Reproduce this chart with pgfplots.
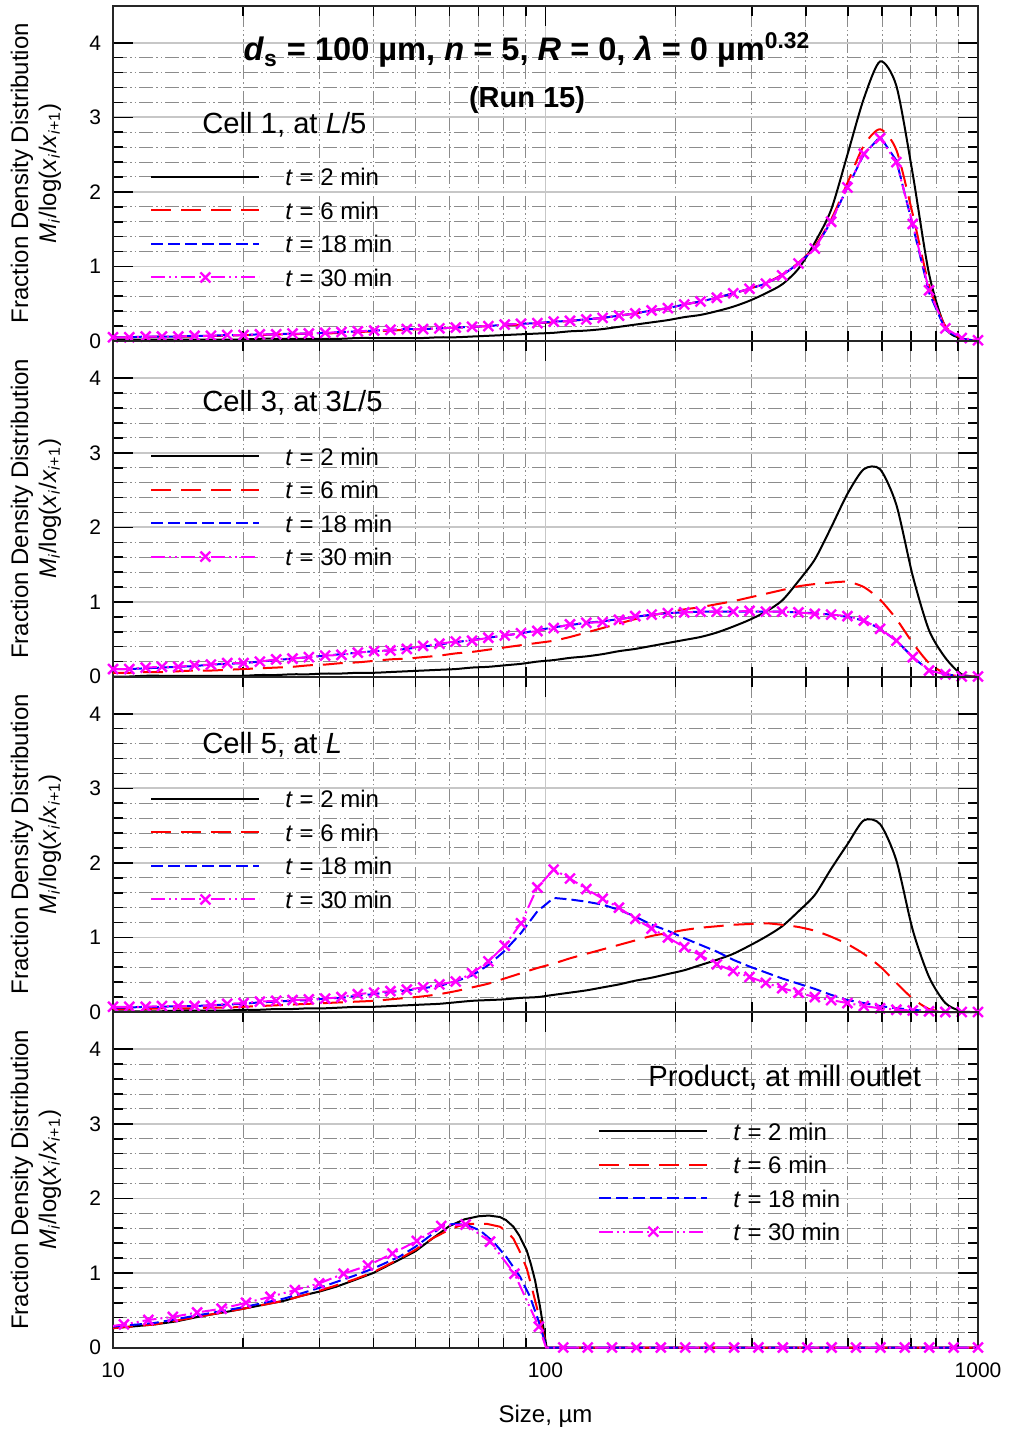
\documentclass[border=0pt]{standalone}
\usepackage{fontspec}
\setmainfont{Liberation Sans}
\usepackage{pgfplots}
\usepackage{pgfplotstable}
\pgfplotsset{compat=1.18}
\definecolor{mag}{RGB}{255,0,255}
\definecolor{rd}{RGB}{255,0,0}
\definecolor{bl}{RGB}{0,0,255}

% columns: x, a = t 2 min, b = t 6 min, c = t 18 min, d = t 30 min
\pgfplotstableread{
x a b c d
10.000 0.02 0.05 0.05 0.05
10.908 0.02 0.05 0.05 0.05
11.898 0.02 0.05 0.06 0.06
12.978 0.02 0.06 0.06 0.06
14.156 0.02 0.06 0.06 0.06
15.441 0.02 0.06 0.07 0.07
16.843 0.02 0.07 0.07 0.07
18.372 0.02 0.07 0.08 0.08
20.040 0.02 0.08 0.08 0.08
21.859 0.03 0.08 0.09 0.09
23.843 0.03 0.09 0.09 0.09
26.008 0.03 0.09 0.10 0.10
28.369 0.03 0.10 0.10 0.10
30.944 0.03 0.10 0.11 0.11
33.753 0.03 0.11 0.12 0.12
36.817 0.04 0.12 0.13 0.13
40.160 0.04 0.13 0.14 0.14
43.806 0.04 0.14 0.15 0.15
47.782 0.04 0.15 0.16 0.16
52.120 0.04 0.16 0.16 0.16
56.851 0.05 0.17 0.17 0.17
62.012 0.05 0.18 0.18 0.18
67.642 0.06 0.19 0.19 0.19
73.782 0.07 0.20 0.20 0.20
80.480 0.08 0.21 0.22 0.22
87.786 0.09 0.22 0.23 0.23
95.755 0.10 0.24 0.24 0.24
104.45 0.11 0.25 0.26 0.26
113.93 0.13 0.27 0.27 0.27
124.27 0.14 0.29 0.29 0.29
135.55 0.16 0.31 0.31 0.31
147.86 0.19 0.34 0.34 0.34
161.28 0.22 0.37 0.37 0.37
175.92 0.25 0.41 0.41 0.41
191.89 0.28 0.44 0.44 0.44
209.31 0.32 0.49 0.49 0.49
228.31 0.35 0.53 0.53 0.53
249.04 0.40 0.58 0.58 0.58
271.65 0.46 0.64 0.64 0.64
296.31 0.54 0.70 0.70 0.70
323.21 0.64 0.78 0.77 0.77
352.55 0.76 0.89 0.88 0.88
384.55 0.97 1.05 1.04 1.04
419.46 1.32 1.27 1.24 1.24
457.54 1.76 1.63 1.60 1.60
499.07 2.50 2.12 2.06 2.06
544.38 3.25 2.62 2.50 2.51
593.80 3.75 2.84 2.74 2.72
647.70 3.42 2.56 2.42 2.40
706.50 2.24 1.70 1.55 1.57
770.64 0.90 0.75 0.65 0.68
840.59 0.18 0.20 0.15 0.17
916.90 0.03 0.04 0.03 0.04
1000.0 0.00 0.00 0.00 0.01
}\panelA

\pgfplotstableread{
x a b c d
10.000 0.00 0.05 0.10 0.10
10.908 0.00 0.05 0.10 0.10
11.898 0.01 0.06 0.11 0.12
12.978 0.01 0.06 0.12 0.13
14.156 0.01 0.07 0.13 0.13
15.441 0.01 0.08 0.14 0.15
16.843 0.01 0.08 0.16 0.16
18.372 0.01 0.09 0.17 0.18
20.040 0.01 0.10 0.18 0.18
21.859 0.02 0.11 0.20 0.20
23.843 0.02 0.12 0.22 0.23
26.008 0.03 0.13 0.24 0.24
28.369 0.03 0.15 0.26 0.26
30.944 0.04 0.16 0.28 0.28
33.753 0.04 0.18 0.30 0.29
36.817 0.05 0.19 0.32 0.32
40.160 0.05 0.21 0.34 0.34
43.806 0.06 0.23 0.35 0.35
47.782 0.07 0.24 0.37 0.37
52.120 0.08 0.26 0.40 0.41
56.851 0.09 0.28 0.43 0.44
62.012 0.10 0.31 0.46 0.47
67.642 0.12 0.33 0.49 0.48
73.782 0.13 0.36 0.52 0.52
80.480 0.15 0.39 0.55 0.55
87.786 0.17 0.42 0.58 0.58
95.755 0.20 0.45 0.62 0.61
104.45 0.22 0.48 0.66 0.65
113.93 0.25 0.53 0.69 0.70
124.27 0.27 0.59 0.72 0.72
135.55 0.30 0.65 0.74 0.73
147.86 0.34 0.71 0.77 0.76
161.28 0.37 0.77 0.80 0.81
175.92 0.41 0.82 0.83 0.83
191.89 0.45 0.86 0.85 0.85
209.31 0.49 0.90 0.86 0.86
228.31 0.53 0.93 0.87 0.87
249.04 0.59 0.97 0.87 0.87
271.65 0.67 1.01 0.87 0.87
296.31 0.76 1.06 0.87 0.88
323.21 0.87 1.11 0.87 0.87
352.55 1.02 1.16 0.87 0.87
384.55 1.28 1.21 0.86 0.86
419.46 1.57 1.24 0.85 0.84
457.54 2.00 1.26 0.83 0.83
499.07 2.45 1.27 0.80 0.81
544.38 2.78 1.20 0.75 0.75
593.80 2.78 1.03 0.64 0.64
647.70 2.30 0.77 0.48 0.48
706.50 1.35 0.45 0.26 0.26
770.64 0.62 0.18 0.08 0.08
840.59 0.25 0.04 0.03 0.03
916.90 0.03 0.00 0.00 0.00
1000.0 0.00 0.00 0.00 0.00
}\panelB

\pgfplotstableread{
x a b c d
10.000 0.01 0.04 0.06 0.07
10.908 0.01 0.04 0.06 0.07
11.898 0.01 0.04 0.07 0.07
12.978 0.01 0.05 0.07 0.08
14.156 0.02 0.05 0.08 0.08
15.441 0.02 0.05 0.08 0.08
16.843 0.02 0.06 0.09 0.09
18.372 0.02 0.06 0.10 0.11
20.040 0.03 0.07 0.11 0.12
21.859 0.03 0.08 0.13 0.14
23.843 0.04 0.09 0.14 0.15
26.008 0.04 0.10 0.15 0.16
28.369 0.05 0.11 0.16 0.17
30.944 0.05 0.12 0.18 0.18
33.753 0.06 0.13 0.19 0.20
36.817 0.07 0.14 0.22 0.24
40.160 0.07 0.15 0.24 0.26
43.806 0.08 0.17 0.27 0.28
47.782 0.09 0.19 0.29 0.30
52.120 0.10 0.21 0.32 0.33
56.851 0.11 0.24 0.35 0.37
62.012 0.13 0.28 0.41 0.41
67.642 0.15 0.33 0.49 0.52
73.782 0.16 0.38 0.63 0.68
80.480 0.17 0.45 0.82 0.89
87.786 0.19 0.52 1.06 1.19
95.755 0.20 0.59 1.35 1.67
104.45 0.23 0.65 1.53 1.91
113.93 0.26 0.72 1.51 1.79
124.27 0.29 0.78 1.48 1.65
135.55 0.33 0.84 1.44 1.52
147.86 0.37 0.90 1.37 1.40
161.28 0.42 0.96 1.28 1.25
175.92 0.46 1.02 1.17 1.12
191.89 0.51 1.06 1.09 1.00
209.31 0.56 1.10 0.99 0.87
228.31 0.63 1.13 0.90 0.76
249.04 0.70 1.15 0.81 0.64
271.65 0.78 1.17 0.70 0.55
296.31 0.89 1.18 0.61 0.47
323.21 1.01 1.19 0.53 0.39
352.55 1.15 1.17 0.45 0.32
384.55 1.35 1.14 0.38 0.26
419.46 1.57 1.09 0.31 0.20
457.54 1.92 1.01 0.23 0.16
499.07 2.25 0.91 0.16 0.12
544.38 2.57 0.78 0.12 0.08
593.80 2.52 0.61 0.08 0.05
647.70 2.03 0.39 0.05 0.03
706.50 1.10 0.18 0.03 0.02
770.64 0.47 0.04 0.01 0.01
840.59 0.12 0.00 0.00 0.00
916.90 0.01 0.00 0.00 0.00
1000.0 0.00 0.00 0.00 0.00
}\panelC

\tikzset{
  s2/.style={black, line width=1pt},
  s6/.style={rd, line width=1pt, dash pattern=on 10pt off 5pt},
  s18/.style={bl, line width=1pt, dash pattern=on 6pt off 2.5pt},
  s30/.style={mag, line width=1pt, dash pattern=on 7pt off 2pt on 1pt off 2pt on 1pt off 2pt,
    mark=x, mark size=3.5pt, mark options={solid, line width=1.2pt}},
  plabel/.style={anchor=west, inner sep=0pt, font=\fontsize{14.6}{17}\selectfont},
}

\newcommand{\beginpanel}[1]{%
\begin{axis}[
    xmode=log, xmin=10, xmax=1000, ymin=0, ymax=4.5,
    scale only axis, width=432.5pt, height=167.75pt,
    xtick={10,100,1000},
    minor xtick={20,30,40,50,60,70,80,90,200,300,400,500,600,700,800,900},
    ytick={0,1,2,3,4}, yticklabels={0,1,2,3,4},
    minor y tick num=4,
    grid=both,
    major grid style={black!22, line width=0.9pt},
    minor grid style={black!45, line width=0.5pt, dash pattern=on 7pt off 1.5pt on 0.8pt off 1.5pt on 0.8pt off 1.5pt},
    tick align=inside, tick pos=both, xticklabel pos=lower, yticklabel pos=left,
    major tick length=10pt, minor tick length=5pt,
    tick style={black, line width=0.8pt},
    axis line style={black!85, line width=1pt},
    tick label style={font=\fontsize{10.5}{12}\selectfont},
    /pgf/number format/assume math mode=true,
    yticklabel style={xshift=-2.5pt},
    xticklabel style={yshift=-4pt},
    ylabel={Fraction Density Distribution\\\textit{M}\textsubscript{\textit{i}}/log(\textit{x}\textsubscript{\textit{i}}/\textit{x}\textsubscript{\textit{i}+1})},
    ylabel style={align=center, font=\fontsize{12}{14}\selectfont, at={(axis description cs:-0.089,0.5)}, anchor=center},
    clip=false,
    legend cell align=left,
    legend style={draw=none, fill=none, inner sep=0pt, anchor=north west,
      font=\fontsize{12}{14}\selectfont, row sep=7.75pt, column sep=12.5pt,
      nodes={inner sep=0pt, text height=9pt, text depth=0pt}},
    legend image code/.code={\draw[mark repeat=2,mark phase=2,##1] plot coordinates {(0pt,0pt) (27pt,0pt) (54pt,0pt)};},
    #1]}

\begin{document}
\begin{tikzpicture}
% Panel 1
\beginpanel{at={(0pt,0pt)}, anchor=north west, xticklabels={},
  legend style={at={(axis description cs:0.0428,0.517)}}}
\addplot[s2, smooth, tension=0.45] table[x=x,y=a]{\panelA}; \addlegendentry{\textit{t} = 2 min}
\addplot[s6, smooth, tension=0.45] table[x=x,y=b]{\panelA}; \addlegendentry{\textit{t} = 6 min}
\addplot[s18] table[x=x,y=c]{\panelA}; \addlegendentry{\textit{t} = 18 min}
\addplot[s30] table[x=x,y=d]{\panelA}; \addlegendentry{\textit{t} = 30 min}
\node[font=\bfseries\fontsize{16.3}{19}\selectfont] at (axis description cs:0.4786,0.867)
  {\textit{d}\textsubscript{s} = 100 µm, \textit{n} = 5, \textit{R} = 0, \textit{λ} = 0 µm\textsuperscript{0.32}};
\node[font=\bfseries\fontsize{14.5}{17}\selectfont] at (axis description cs:0.4786,0.718) {(Run 15)};
\node[plabel] at (axis description cs:0.1029,0.644) {Cell 1, at \textit{L}/5};
\end{axis}
% Panel 2
\beginpanel{at={(0pt,-167.75pt)}, anchor=north west, xticklabels={},
  legend style={at={(axis description cs:0.0428,0.685)}}}
\addplot[s2, smooth, tension=0.45] table[x=x,y=a]{\panelB}; \addlegendentry{\textit{t} = 2 min}
\addplot[s6, smooth, tension=0.45] table[x=x,y=b]{\panelB}; \addlegendentry{\textit{t} = 6 min}
\addplot[s18] table[x=x,y=c]{\panelB}; \addlegendentry{\textit{t} = 18 min}
\addplot[s30] table[x=x,y=d]{\panelB}; \addlegendentry{\textit{t} = 30 min}
\node[plabel] at (axis description cs:0.1029,0.815) {Cell 3, at 3\textit{L}/5};
\end{axis}
% Panel 3
\beginpanel{at={(0pt,-335.5pt)}, anchor=north west, xticklabels={},
  legend style={at={(axis description cs:0.0428,0.663)}}}
\addplot[s2, smooth, tension=0.45] table[x=x,y=a]{\panelC}; \addlegendentry{\textit{t} = 2 min}
\addplot[s6, smooth, tension=0.45] table[x=x,y=b]{\panelC}; \addlegendentry{\textit{t} = 6 min}
\addplot[s18] table[x=x,y=c]{\panelC}; \addlegendentry{\textit{t} = 18 min}
\addplot[s30] table[x=x,y=d]{\panelC}; \addlegendentry{\textit{t} = 30 min}
\node[plabel] at (axis description cs:0.1029,0.796) {Cell 5, at \textit{L}};
\end{axis}
% Panel 4
\beginpanel{at={(0pt,-503.25pt)}, anchor=north west, xticklabels={10,100,1000},
  xlabel={Size, µm},
  xlabel style={font=\fontsize{12}{14}\selectfont, at={(axis description cs:0.5,-0.204)}, anchor=center},
  legend style={at={(axis description cs:0.5607,0.673)}}}
\addplot[s2] coordinates {(10,0.26) (11,0.28) (12.5,0.31) (14,0.35) (16,0.42) (18,0.47) (20,0.52) (22.6,0.58) (25,0.63) (27.1,0.69) (30,0.75) (33,0.82) (36,0.90) (40,1.00) (46,1.18) (50,1.29) (55,1.47) (60,1.63) (65,1.72) (70,1.76) (74,1.77) (78.5,1.75) (81,1.71) (84.3,1.62) (87,1.50) (90.5,1.30) (92.5,1.12) (94.6,0.90) (97.1,0.55) (99.7,0.14) (100.6,0) (1000,0)};
\addlegendentry{\textit{t} = 2 min}
\addplot[s6] coordinates {(10,0.26) (12.5,0.31) (16,0.42) (20,0.52) (25,0.63) (30,0.76) (36,0.91) (40,1.01) (46,1.19) (50,1.31) (55,1.47) (60,1.58) (63,1.63) (67,1.66) (73,1.66) (78.5,1.62) (81.5,1.55) (84.3,1.46) (87,1.30) (90.5,1.06) (93.3,0.77) (97.1,0.37) (99.7,0.10) (100.6,0) (1000,0)};
\addlegendentry{\textit{t} = 6 min}
\addplot[s18] coordinates {(10,0.28) (12.5,0.33) (16,0.44) (20,0.54) (25,0.66) (30,0.80) (36,0.96) (40,1.06) (46,1.22) (50,1.35) (55,1.53) (58,1.64) (62,1.66) (66,1.64) (70.6,1.57) (75.7,1.42) (81.3,1.21) (87.3,0.95) (92.1,0.68) (96.2,0.37) (98.9,0.14) (100.3,0) (1000,0)};
\addlegendentry{\textit{t} = 18 min}
\addplot[s30, mark=none, forget plot] coordinates {(10,0.29) (10.60,0.31) (12.07,0.37) (13.75,0.41) (15.65,0.47) (17.83,0.52) (20.30,0.60) (23.12,0.68) (26.33,0.77) (29.98,0.86) (34.14,0.99) (38.87,1.10) (44.27,1.26) (50.41,1.43) (57.40,1.63) (65.36,1.65) (74.43,1.42) (84.75,0.99) (96.5,0.28) (100.3,0) (1000,0)};
\addplot[s30, only marks, forget plot]
  coordinates {(10.60,0.31) (12.07,0.37) (13.75,0.41) (15.65,0.47) (17.83,0.52) (20.30,0.60) (23.12,0.68) (26.33,0.77) (29.98,0.86) (34.14,0.99) (38.87,1.10) (44.27,1.26) (50.41,1.43) (57.40,1.63) (65.36,1.65) (74.43,1.42) (84.75,0.99) (96.5,0.28) (109.9,0) (125.2,0) (142.5,0) (162.3,0) (184.8,0) (210.4,0) (239.6,0) (272.9,0) (310.7,0) (353.8,0) (402.9,0) (458.7,0) (522.4,0) (594.8,0) (677.3,0) (771.3,0) (878.2,0) (1000,0)};
\addlegendimage{s30}
\addlegendentry{\textit{t} = 30 min}
\node[plabel] at (axis description cs:0.6185,0.803) {Product, at mill outlet};
\end{axis}
\pgfresetboundingbox
\path[use as bounding box] (-56.5pt,2.75pt) rectangle (447.5pt,-712.75pt);
\end{tikzpicture}
\end{document}
